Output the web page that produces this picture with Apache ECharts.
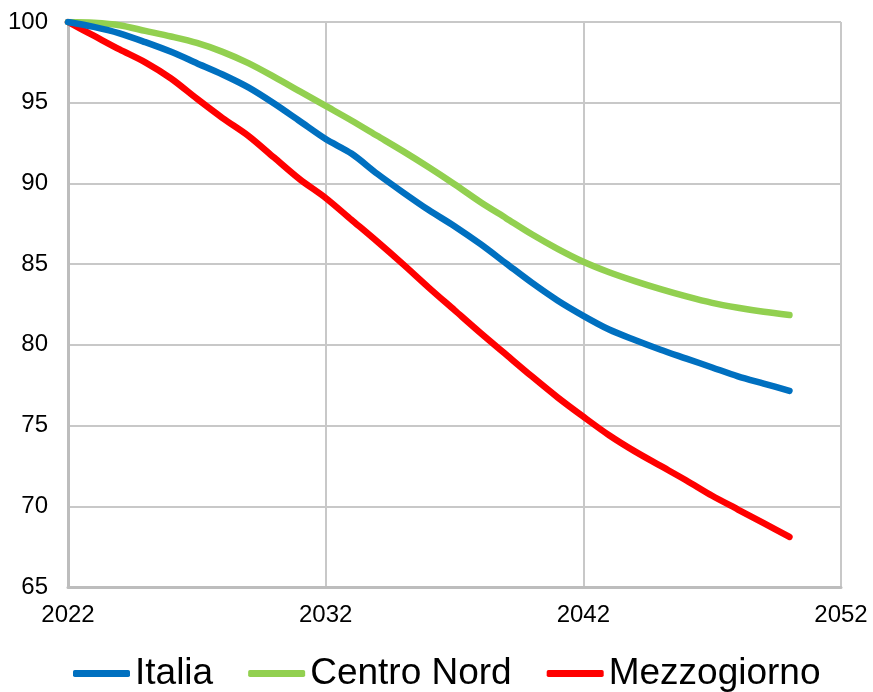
<!DOCTYPE html>
<html>
<head>
<meta charset="utf-8">
<script src="https://cdn.jsdelivr.net/npm/echarts@6/dist/echarts.min.js"></script>
<style>
  html, body { margin: 0; padding: 0; background: #ffffff; }
  #chart { width: 873px; height: 692px; }
</style>
</head>
<body>
<div id="chart"></div>
<script>
// Categories (years on the x axis, including empty years up to 2052)
var years = [];
for (var y = 2022; y <= 2052; y++) { years.push(String(y)); }

// Series values, 2022..2050
var italia = [100, 99.7, 99.3, 98.75, 98.15, 97.45, 96.75, 95.95, 94.95, 93.85, 92.75, 91.85, 90.6, 89.45, 88.35, 87.35, 86.25, 85.05, 83.85, 82.75, 81.8, 80.95, 80.3, 79.7, 79.15, 78.6, 78.05, 77.6, 77.15];
var centroNord = [100, 99.95, 99.8, 99.45, 99.1, 98.7, 98.15, 97.45, 96.6, 95.7, 94.8, 93.9, 92.95, 92.0, 91.0, 89.95, 88.85, 87.85, 86.85, 85.95, 85.15, 84.5, 83.95, 83.45, 83.0, 82.6, 82.3, 82.05, 81.85];
var mezzogiorno = [100, 99.15, 98.3, 97.5, 96.5, 95.25, 94.05, 92.95, 91.6, 90.25, 89.1, 87.75, 86.4, 85.0, 83.55, 82.15, 80.75, 79.4, 78.05, 76.75, 75.55, 74.4, 73.4, 72.5, 71.6, 70.65, 69.8, 68.95, 68.1];

var seriesNames = ['Italia', 'Centro Nord', 'Mezzogiorno'];
var seriesColors = ['#0070C0', '#92D050', '#FF0000'];
var seriesData = [italia, centroNord, mezzogiorno];

var chart = echarts.init(document.getElementById('chart'), null, { renderer: 'canvas' });

var font = '"Liberation Sans", Arial, sans-serif';

var option = {
  animation: false,
  backgroundColor: '#ffffff',
  textStyle: { fontFamily: font },
  grid: { left: 68, right: 32, top: 22, bottom: 105, containLabel: false },
  legend: {
    data: seriesNames,
    left: 73,
    top: 655,
    padding: 0,
    itemWidth: 57,
    itemHeight: 7,
    itemGap: 35,
    icon: 'roundRect',
    textStyle: { fontSize: 37, color: '#000', fontFamily: font, lineHeight: 37, padding: [0, 0, 0, 0] }
  },
  xAxis: {
    type: 'category',
    data: years,
    boundaryGap: false,
    axisLine: { show: true, lineStyle: { color: '#BDBDBD', width: 3 } },
    axisTick: { show: false },
    axisLabel: { interval: 9, color: '#000', fontSize: 24, fontFamily: font, margin: 16 },
    splitLine: { show: true, interval: 9, lineStyle: { color: '#C8C8C8', width: 2 } }
  },
  yAxis: {
    type: 'value',
    min: 65,
    max: 100,
    interval: 5,
    axisLine: { show: true, lineStyle: { color: '#BDBDBD', width: 3 } },
    axisTick: { show: false },
    axisLabel: { color: '#000', fontSize: 24, fontFamily: font, margin: 20 },
    splitLine: { show: true, lineStyle: { color: '#C8C8C8', width: 2 } }
  },
  series: seriesNames.map(function (name, i) {
    return {
      name: name,
      type: 'line',
      data: seriesData[i],
      smooth: 0.3,
      showSymbol: false,
      symbol: 'none',
      color: seriesColors[i],
      lineStyle: { color: seriesColors[i], width: 6.5, cap: 'round', join: 'round' },
      z: 3 - i
    };
  })
};

chart.setOption(option);
</script>
</body>
</html>
